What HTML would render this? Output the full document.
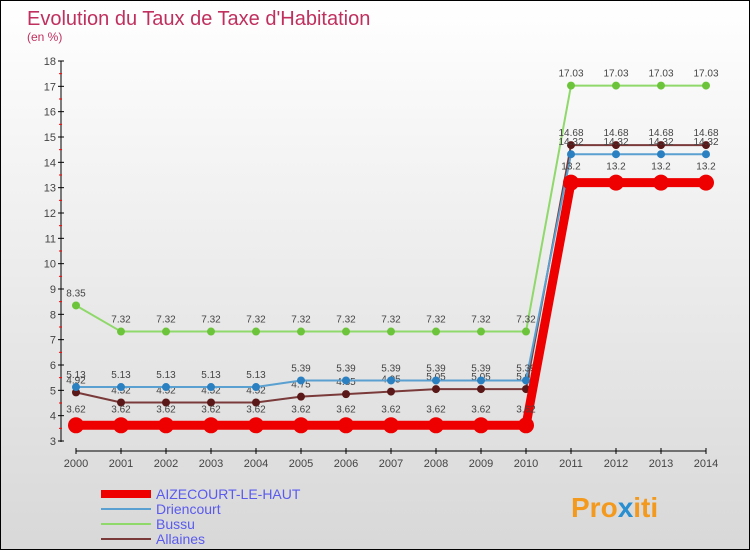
<!DOCTYPE html>
<html><head><meta charset="utf-8"><style>
body{margin:0}
#c{width:748px;height:548px;border:1px solid #000;position:relative;background:linear-gradient(#fff,#d8d8d8);font-family:"Liberation Sans",sans-serif;overflow:hidden}
svg{position:absolute;left:0;top:0}
</style></head><body>
<div id="c">
<svg id="s" width="750" height="550">
<text x="26" y="24" font-size="20" fill="#c0305f">Evolution du Taux de Taxe d'Habitation</text>
<text x="26" y="40" font-size="12" fill="#c0305f">(en %)</text>
<text x="570" y="516" font-size="28" font-weight="bold" fill="#f39a1e">Pro<tspan fill="#2a8fd0">x</tspan>iti</text>
</svg>
</div>
<script>
const years=[2000,2001,2002,2003,2004,2005,2006,2007,2008,2009,2010,2011,2012,2013,2014];
const aizecourt=[3.62,3.62,3.62,3.62,3.62,3.62,3.62,3.62,3.62,3.62,3.62,13.2,13.2,13.2,13.2];
const driencourt=[5.13,5.13,5.13,5.13,5.13,5.39,5.39,5.39,5.39,5.39,5.39,14.32,14.32,14.32,14.32];
const bussu=[8.35,7.32,7.32,7.32,7.32,7.32,7.32,7.32,7.32,7.32,7.32,17.03,17.03,17.03,17.03];
const allaines=[4.92,4.52,4.52,4.52,4.52,4.75,4.85,4.95,5.05,5.05,5.05,14.68,14.68,14.68,14.68];
const yTicks=[3,4,5,6,7,8,9,10,11,12,13,14,15,16,17,18];
const s=document.getElementById('s');const NS='http://www.w3.org/2000/svg';
const X=i=>75+i*45, Y=v=>440-(v-3)*(380/15);
function mk(t,a,p){const e=document.createElementNS(NS,t);for(const k in a)e.setAttribute(k,a[k]);(p||s).appendChild(e);return e;}
let ax=mk('line',{x1:60,y1:60,x2:60,y2:441,stroke:'#000'});


yTicks.forEach(v=>{mk('line',{x1:57,y1:Y(v),x2:63,y2:Y(v),stroke:'#000'});
 if(v<18)mk('line',{x1:58,y1:Y(v+0.5),x2:61,y2:Y(v+0.5),stroke:'#f00'});
 const t=mk('text',{x:55,y:Y(v)+4,'font-size':11,fill:'#444','text-anchor':'end'});t.textContent=v;
 
 });
let xa=mk('line',{x1:75,y1:450,x2:705,y2:450,stroke:'#000'});


years.forEach((y,i)=>{mk('line',{x1:X(i),y1:447,x2:X(i),y2:453,stroke:'#000'});
 const t=mk('text',{x:X(i),y:466,'font-size':11,fill:'#444','text-anchor':'middle'});t.textContent=y;
 
 });
const series=[
 {n:'bussu',d:bussu,c:'#8fd86a',dot:'#6cc43a',w:2,r:4,fs:10},
 {n:'allaines',d:allaines,c:'#7a3a3a',dot:'#5a1818',w:2,r:4,fs:10},
 {n:'driencourt',d:driencourt,c:'#5aa0d0',dot:'#2a80c0',w:2,r:4,fs:10},
 {n:'aizecourt',d:aizecourt,c:'#ee0000',dot:'#ee0000',w:9,r:8,fs:10}];
series.forEach(se=>{
 const g=mk('g',{});
 
 
 mk('polyline',{points:se.d.map((v,i)=>X(i)+','+Y(v)).join(' '),fill:'none',stroke:se.c,'stroke-width':se.w},g);
 se.d.forEach((v,i)=>{const c=mk('circle',{cx:X(i),cy:Y(v),r:se.r,fill:se.dot},g);
  
  
  const t=mk('text',{x:X(i),y:Y(v)-(se.r+5),'font-size':se.fs,fill:'#444','text-anchor':'middle'},g);t.textContent=v;});
});
const leg=[['AIZECOURT-LE-HAUT','#ee0000',8],['Driencourt','#5aa0d0',2],['Bussu','#8fd86a',2],['Allaines','#7a3a3a',2]];
leg.forEach((l,i)=>{const y=493+i*15;const g=mk('g',{});
 
 
 mk('line',{x1:100,y1:y,x2:150,y2:y,stroke:l[1],'stroke-width':l[2]},g);
 const t=mk('text',{x:155,y:y+5,'font-size':14,fill:'#5a5aee'},g);t.textContent=l[0];});
</script>
</body></html>
